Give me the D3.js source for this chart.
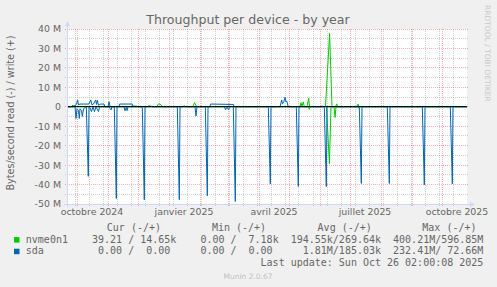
<!DOCTYPE html>
<html><head><meta charset="utf-8">
<script src="https://cdn.jsdelivr.net/npm/d3@7"></script>
<style>body{margin:0;background:#f0f0f0;overflow:hidden} svg{display:block}</style>
</head><body>
<svg id="c" width="497" height="287"></svg>
<script>
// ---------- data ----------
const title = "Throughput per device - by year";
const yLabel = "Bytes/second read (-) / write (+)";
const yTicks = [40, 30, 20, 10, 0, -10, -20, -30, -40, -50];
const yTickLabels = ["40 M", "30 M", "20 M", "10 M", "0", "-10 M", "-20 M", "-30 M", "-40 M", "-50 M"];
const xLabelMonths = ["2024-10-01", "2025-01-01", "2025-04-01", "2025-07-01", "2025-10-01"];
const xTickLabels = ["octobre 2024", "janvier 2025", "avril 2025", "juillet 2025", "octobre 2025"];
const startDate = "2024-09-21", endDate = "2025-10-26";
const seriesNames = ["nvme0n1", "sda"];
const seriesColors = ["#00cc00", "#0066b3"];
// [days since start, MB/s]  read plotted negative, write positive
const nvmeRead = [[0,0],[241.5,0],[242.3,-1.3],[243,0],[259.5,0],[262.4,-29.3],[264,0],[267,0],[268,-5.5],[269,0],[291,0],[292,-0.8],[292.5,0],[400,0]];
const nvmeWrite = [[0,0],[90,0],[91.3,1.4],[93,1.4],[95.7,0],[125.7,0],[127.5,2.1],[129.7,0],[233,0],[234,2.1],[235,0.3],[236.3,2.5],[237.3,0],[240,0],[241.7,4.4],[242.5,0],[254,0],[255.3,0.5],[256,0],[258.5,0],[262.6,37.7],[265,0],[268.5,0],[269.7,1.5],[270.7,0],[289.5,0],[291,1.4],[292,0],[400,0]];
const sdaRead = [[0,0],[8,0],[9,-6],[10,-1],[11.5,-2],[12.3,-6],[13,-1],[14.5,-2],[15.3,-5],[16.5,-1],[19.3,0],[21.3,-35.8],[22,0],[23,-0.5],[24.5,-2.5],[26,0],[27.5,-2.5],[29,0],[31.5,-2.5],[32.5,0],[42,0],[44,-1.6],[45,0],[47.3,0],[49.3,-47.2],[50,0],[57,0],[58,-2],[59.5,0],[60,-2],[61,0],[75.3,0],[77.3,-47.8],[78,0],[110.3,0],[112.3,-47.8],[113,0],[128,0],[129,-4.7],[130,0],[138.3,0],[140.3,-45.8],[141,0],[157.5,0],[158.5,-1.6],[160,0],[161.5,-1.6],[163,0],[166.3,0],[168.3,-48.7],[169,0],[201.3,0],[203.3,-39.6],[204,0],[229.3,0],[231.3,-41],[232,0],[257.3,0],[259.3,-41],[260,0],[292.3,0],[294.3,-39.4],[295,0],[320.3,0],[322.3,-39.4],[323,0],[355.3,0],[357.3,-40.1],[358,0],[383.3,0],[385.3,-39.6],[386,0],[400,0]];
const sdaWrite = [[0,0],[4,0],[5,0.6],[8,0.4],[9.5,1.5],[10.5,3.5],[11.5,1.0],[13,1.4],[22,1.4],[23.7,3.5],[25,1.0],[26.5,1.4],[28.7,3.5],[29.5,1.2],[30.3,3.3],[31.5,0.8],[33.7,1.4],[37,1.4],[38,0],[41,0],[42,2.6],[43,0.2],[44,0],[52,0],[52.5,1.4],[65.3,1.4],[66,0.3],[70,0.3],[71,0],[80,0],[82,0.5],[86,0],[116,0],[117,0.5],[119,0],[143,0],[143.5,1.4],[166.5,1.2],[167,0],[213,0],[214.7,3.5],[215.5,1.5],[216.5,2.0],[218,4.9],[219,2.5],[219.7,3.0],[221.3,0],[400,0]];
const legendHeader = ["Cur (-/+)", "Min (-/+)", "Avg (-/+)", "Max (-/+)"];
const legendCur = [" 39.21 / 14.65k", "  0.00 /  0.00 "];
const legendMin = ["  0.00 /  7.18k", "  0.00 /  0.00 "];
const legendAvg = ["194.55k/269.64k", "  1.81M/185.03k"];
const legendMax = ["400.21M/596.85M", "232.41M/ 72.66M"];
const lastUpdate = "Last update: Sun Oct 26 02:00:08 2025";
const footer = "Munin 2.0.67";
const sideText = "RRDTOOL / TOBI OETIKER";

// ---------- drawing ----------
const W = 497, H = 287;
const P = {left: 67, right: 467, top: 29, bottom: 204};
const start = new Date(startDate + "T00:00:00Z"), end = new Date(endDate + "T00:00:00Z");
const toDate = d => new Date(+start + d * 864e5);
const x = d3.scaleUtc().domain([start, end]).range([P.left, P.right]);
const y = d3.scaleLinear().domain([-50, 40]).range([P.bottom, P.top]);
const px = v => Math.floor(v) + 0.5;
const svg = d3.select("#c");
const FONT = "DejaVu Sans, sans-serif", MONO = "DejaVu Sans Mono, monospace", FC = "#666666";

svg.append("rect").attr("width", W).attr("height", H).attr("fill", "#f0f0f0");
svg.append("rect").attr("x", P.left).attr("y", P.top).attr("width", P.right - P.left).attr("height", P.bottom - P.top).attr("fill", "#ffffff");

const grid = svg.append("g").attr("fill", "none").attr("stroke-width", 1).attr("stroke-dasharray", "1,1");
const minorGrid = "rgba(140,140,140,0.42)", majorGrid = "rgba(255,0,0,0.32)";
const yMinor = d3.range(-45, 40, 10);
grid.selectAll(".hm").data(yMinor).join("line")
  .attr("x1", P.left - 2).attr("x2", P.right + 2).attr("y1", d => px(y(d))).attr("y2", d => px(y(d))).attr("stroke", minorGrid);
const sundays = d3.utcSunday.range(start, end).filter((d, i) => i % 2 === 1);
grid.selectAll(".vm").data(sundays).join("line")
  .attr("x1", d => px(x(d))).attr("x2", d => px(x(d))).attr("y1", P.top).attr("y2", P.bottom + 2).attr("stroke", minorGrid);
grid.selectAll(".hM").data(yTicks).join("line")
  .attr("x1", P.left - 2).attr("x2", P.right + 2).attr("y1", d => px(y(d))).attr("y2", d => px(y(d))).attr("stroke", majorGrid);
const months = d3.utcMonth.range(start, end);
grid.selectAll(".vM").data(months).join("line")
  .attr("x1", d => px(x(d))).attr("x2", d => px(x(d))).attr("y1", P.top).attr("y2", P.bottom + 2).attr("stroke", majorGrid);

// data lines
const line = d3.line().x(d => x(toDate(d[0]))).y(d => y(d[1]));
const lines = [[nvmeRead, 0], [nvmeWrite, 0], [sdaRead, 1], [sdaWrite, 1]];
svg.append("g").attr("fill", "none").attr("stroke-width", 1)
  .selectAll("path").data(lines).join("path")
  .attr("d", d => line(d[0])).attr("stroke", d => seriesColors[d[1]]);

// zero line
svg.append("line").attr("x1", P.left).attr("x2", P.right).attr("y1", px(y(0))).attr("y2", px(y(0)))
  .attr("stroke", "#000").attr("stroke-width", 1);
svg.append("line").attr("x1", P.left).attr("x2", P.right).attr("y1", px(y(0))).attr("y2", px(y(0)))
  .attr("stroke", "rgba(255,0,0,0.35)").attr("stroke-dasharray", "1,2");

// axes
const AX = "#CFD6F8";
svg.append("line").attr("x1", P.left + 0.5).attr("x2", P.left + 0.5).attr("y1", P.bottom + 3).attr("y2", P.top - 4)
  .attr("stroke", AX).attr("stroke-width", 1);
svg.append("line").attr("x1", P.left - 3).attr("x2", P.right + 4).attr("y1", px(P.bottom)).attr("y2", px(P.bottom))
  .attr("stroke", AX).attr("stroke-width", 1);
svg.append("path").attr("d", `M${P.left + 0.5},${P.top - 8} L${P.left - 2},${P.top - 3} L${P.left + 3},${P.top - 3} Z`).attr("fill", AX);
svg.append("path").attr("d", `M${P.right + 8},${px(P.bottom)} L${P.right + 3},${px(P.bottom) - 2.5} L${P.right + 3},${px(P.bottom) + 2.5} Z`).attr("fill", AX);

// y tick labels
svg.append("g").selectAll("text").data(yTicks).join("text")
  .attr("x", 61).attr("y", d => y(d) + 3.4).attr("text-anchor", "end")
  .attr("font-family", FONT).attr("font-size", 9.4).attr("fill", FC)
  .text((d, i) => yTickLabels[i]);
// x tick labels (centered mid-month)
svg.append("g").selectAll("text").data(xLabelMonths).join("text")
  .attr("x", d => x(d3.utcDay.offset(new Date(d + "T00:00:00Z"), 15))).attr("y", 215)
  .attr("text-anchor", "middle").attr("font-family", FONT).attr("font-size", 9.4).attr("fill", FC)
  .text((d, i) => xTickLabels[i]);

// title
svg.append("text").attr("x", 248).attr("y", 23.5).attr("text-anchor", "middle")
  .attr("font-family", FONT).attr("font-size", 12.6).attr("fill", FC).text(title);
// y label
svg.append("text").attr("transform", "translate(13.5,113) rotate(-90)").attr("text-anchor", "middle")
  .attr("font-family", FONT).attr("font-size", 9.6).attr("fill", FC).text(yLabel);
// side text
svg.append("text").attr("transform", "translate(484.5,5) rotate(90)").attr("text-anchor", "start")
  .attr("font-family", FONT).attr("font-size", 7.5).attr("fill", "#c8c8c8").text(sideText);

// legend
const X0 = 25.8, CW = 6.02;
const leg = svg.append("g").attr("font-family", MONO).attr("font-size", 10).attr("fill", FC);
const headerX = [106.8, 211.9, 317.6, 422.3];
leg.selectAll(".h").data(legendHeader).join("text")
  .attr("x", (d, i) => headerX[i]).attr("y", 231).text(d => d);
seriesNames.forEach((name, i) => {
  const yy = 242.7 + i * 11.6;
  svg.append("rect").attr("x", 14).attr("y", yy - 5.6).attr("width", 5.5).attr("height", 5.5).attr("fill", seriesColors[i]);
  const row = name.padEnd(10) + legendCur[i] + "  " + legendMin[i] + "  " + legendAvg[i] + "  " + legendMax[i];
  leg.append("text").attr("x", X0).attr("y", yy).style("white-space", "pre").text(row);
});
leg.append("text").attr("x", X0 + 39 * CW).attr("y", 266.2).text(lastUpdate);
svg.append("text").attr("x", 248).attr("y", 278.5).attr("text-anchor", "middle")
  .attr("font-family", FONT).attr("font-size", 7.5).attr("fill", "#c0c0c0").text(footer);
</script>
</body></html>
